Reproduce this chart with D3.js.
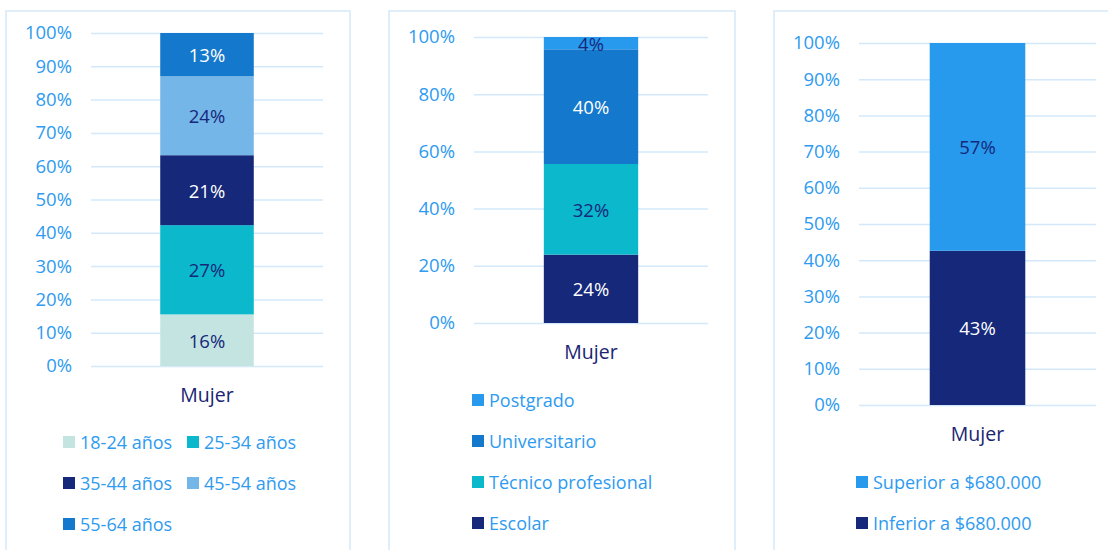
<!DOCTYPE html>
<html>
<head>
<meta charset="utf-8">
<script src="https://cdn.jsdelivr.net/npm/d3@7"></script>
<style>
  body { margin: 0; background: #fff; }
  svg { display: block; font-family: "Open Sans", "Noto Sans", sans-serif; }
</style>
</head>
<body>
<svg id="chart" width="1108" height="550"></svg>
<script>
// categories and values
const category = ["Mujer"];

const ageGroups = ["18-24 años", "25-34 años", "35-44 años", "45-54 años", "55-64 años"];
const ageValues = [15.5, 26.8, 21.0, 23.7, 13.0];
const ageTicks = [0, 10, 20, 30, 40, 50, 60, 70, 80, 90, 100];

const eduGroups = ["Escolar", "Técnico profesional", "Universitario", "Postgrado"];
const eduValues = [23.9, 31.7, 40.1, 4.3];
const eduTicks = [0, 20, 40, 60, 80, 100];

const incomeGroups = ["Inferior a $680.000", "Superior a $680.000"];
const incomeValues = [42.6, 57.4];
const incomeTicks = [0, 10, 20, 30, 40, 50, 60, 70, 80, 90, 100];

const NAVY = "#15287a", BLUE = "#1478cc", SKY = "#279aee", TEAL = "#0bb8cc";
const LIGHTBLUE = "#74b6e8", PALE = "#c3e4e0";
const TEXT_BLUE = "#2e9bf0", GRID = "#d3e8fa";

const svg = d3.select("#chart");

function drawPanel(opt) {
  let g = svg.append("g");

  // frame
  g.append("rect")
    .attr("x", opt.frame[0]).attr("y", 11)
    .attr("width", opt.frame[1] - opt.frame[0]).attr("height", 600)
    .attr("fill", "none").attr("stroke", "#d6e9f8").attr("stroke-width", 1.5);

  let y = d3.scaleLinear().domain([0, 100]).range([opt.yBottom, opt.yTop]);
  let x = d3.scaleBand().domain(category).range(opt.xRange)
    .paddingInner(0).paddingOuter(0.74);

  // gridlines + tick labels
  let axis = g.append("g")
    .attr("transform", `translate(${opt.xRange[0]},0)`)
    .call(d3.axisLeft(y).tickValues(opt.ticks)
      .tickSize(-(opt.xRange[1] - opt.xRange[0]))
      .tickPadding(19)
      .tickFormat(d => d + "%"));
  axis.select(".domain").remove();
  axis.selectAll("line").attr("stroke", GRID).attr("stroke-width", 1.5);
  axis.selectAll("text")
    .attr("fill", TEXT_BLUE).attr("font-size", 18.5)
    .attr("font-family", "Open Sans, sans-serif");

  // stacked segments
  let stack = d3.stack().keys(opt.groups.map((k, i) => i))([opt.values]);
  let seg = g.append("g").selectAll("g")
    .data(stack)
    .join("g");

  seg.append("rect")
    .attr("x", x(category[0]))
    .attr("width", x.bandwidth())
    .attr("y", d => y(d[0][1]))
    .attr("height", d => y(d[0][0]) - y(d[0][1]))
    .attr("fill", d => opt.colors[d.key]);

  seg.append("text")
    .attr("x", x(category[0]) + x.bandwidth() / 2)
    .attr("y", d => (y(d[0][0]) + y(d[0][1])) / 2)
    .attr("text-anchor", "middle")
    .attr("dominant-baseline", "central")
    .attr("font-size", 18.5)
    .attr("fill", d => opt.labelColors[d.key])
    .text(d => Math.round(opt.values[d.key]) + "%");

  // category label
  g.append("text")
    .attr("x", x(category[0]) + x.bandwidth() / 2)
    .attr("y", opt.yBottom + 28)
    .attr("text-anchor", "middle")
    .attr("dominant-baseline", "central")
    .attr("font-size", 19.5)
    .attr("fill", "#1a2472")
    .text(category[0]);

  // legend
  let leg = g.append("g").selectAll("g")
    .data(opt.legend)
    .join("g")
    .attr("transform", d => `translate(${d.x},${d.y})`);
  leg.append("rect")
    .attr("x", 0).attr("y", -6).attr("width", 12).attr("height", 12)
    .attr("fill", d => opt.colors[d.i]);
  leg.append("text")
    .attr("x", 17).attr("y", 0)
    .attr("dominant-baseline", "central")
    .attr("font-size", 18)
    .attr("fill", TEXT_BLUE)
    .text(d => opt.groups[d.i]);
}

drawPanel({
  frame: [6, 350], xRange: [91, 323], yTop: 33, yBottom: 366,
  ticks: ageTicks, groups: ageGroups, values: ageValues,
  colors: [PALE, TEAL, NAVY, LIGHTBLUE, BLUE],
  labelColors: [NAVY, NAVY, "#fff", NAVY, "#fff"],
  legend: [
    {i: 0, x: 63, y: 442}, {i: 1, x: 187, y: 442},
    {i: 2, x: 63, y: 483}, {i: 3, x: 187, y: 483},
    {i: 4, x: 63, y: 524}
  ]
});

drawPanel({
  frame: [389, 735], xRange: [474, 708], yTop: 37, yBottom: 323,
  ticks: eduTicks, groups: eduGroups, values: eduValues,
  colors: [NAVY, TEAL, BLUE, SKY],
  labelColors: ["#fff", NAVY, "#fff", NAVY],
  legend: [
    {i: 3, x: 472, y: 400}, {i: 2, x: 472, y: 441},
    {i: 1, x: 472, y: 482}, {i: 0, x: 472, y: 523}
  ]
});

drawPanel({
  frame: [774, 1120], xRange: [859, 1096], yTop: 43, yBottom: 405,
  ticks: incomeTicks, groups: incomeGroups, values: incomeValues,
  colors: [NAVY, SKY],
  labelColors: ["#fff", NAVY],
  legend: [
    {i: 1, x: 856, y: 482}, {i: 0, x: 856, y: 523}
  ]
});
</script>
</body>
</html>
